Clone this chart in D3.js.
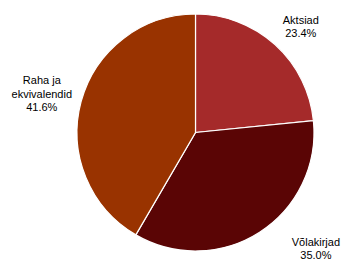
<!doctype html>
<html lang="et">
  <head>
    <meta charset="utf-8">
    <title>Varade jaotus</title>
    <style>
      html, body { margin: 0; padding: 0; background: #fff; }
      svg { display: block; }
      text { font-family: "Liberation Sans", Arial, sans-serif; font-size: 11px; fill: #000; }
    </style>
  </head>
  <body>
    <div id="chart"></div>

    <script src="https://d3js.org/d3.v7.min.js"></script>
    <script>
      // data
      var categories = ["Aktsiad", "Võlakirjad", "Raha ja ekvivalendid"];
      var shares = [23.4, 35.0, 41.6];
      var colors = ["#A52A2A", "#5A0505", "#993300"];
      // how each label breaks into lines
      var labelLines = [["Aktsiad"], ["Võlakirjad"], ["Raha ja", "ekvivalendid"]];

      var w = 342, h = 261;
      var cx = 195.5, cy = 132.5, r = 118.5;
      var lineH = 13.5;

      var svg = d3.select("#chart")
        .append("svg")
        .attr("width", w)
        .attr("height", h);

      var data = categories.map(function (c, i) {
        return { name: c, value: shares[i], color: colors[i], lines: labelLines[i] };
      });

      var pie = d3.pie()
        .sort(null)
        .value(function (d) { return d.value; });

      var arc = d3.arc().innerRadius(0).outerRadius(r);

      var g = svg.append("g").attr("transform", "translate(" + cx + "," + cy + ")");

      var arcs = pie(data);

      g.selectAll("path")
        .data(arcs)
        .enter()
        .append("path")
        .attr("d", arc)
        .attr("fill", function (d) { return d.data.color; })
        .attr("stroke", "#fff")
        .attr("stroke-width", 1.2);

      // labels sit outside the pie, pushed out by half their box
      var labelR = 130;
      // excel moved these a bit; Võlakirjad got slid right along the bottom edge
      var nudge = { "Aktsiad": [6, 1], "Võlakirjad": [37, -4], "Raha ja ekvivalendid": [1, 1] };

      arcs.forEach(function (d) {
        var a = (d.startAngle + d.endAngle) / 2;
        var lines = d.data.lines.concat([d.data.value.toFixed(1) + "%"]);

        var t = g.append("text").attr("text-anchor", "middle");
        lines.forEach(function (s) {
          t.append("tspan").text(s);
        });

        var bw = d3.max(t.selectAll("tspan").nodes(), function (n) { return n.getComputedTextLength(); });
        var bh = lines.length * lineH;

        var x = Math.sin(a) * labelR + Math.sin(a) * bw / 2;
        var y = -Math.cos(a) * labelR - Math.cos(a) * bh / 2;
        var n = nudge[d.data.name] || [0, 0];
        x += n[0];
        y += n[1];

        var top = y - bh / 2;
        t.selectAll("tspan")
          .attr("x", x)
          .attr("y", function (s, i) { return top + lineH * (i + 1) - 3.5; });
      });
    </script>
  </body>
</html>
